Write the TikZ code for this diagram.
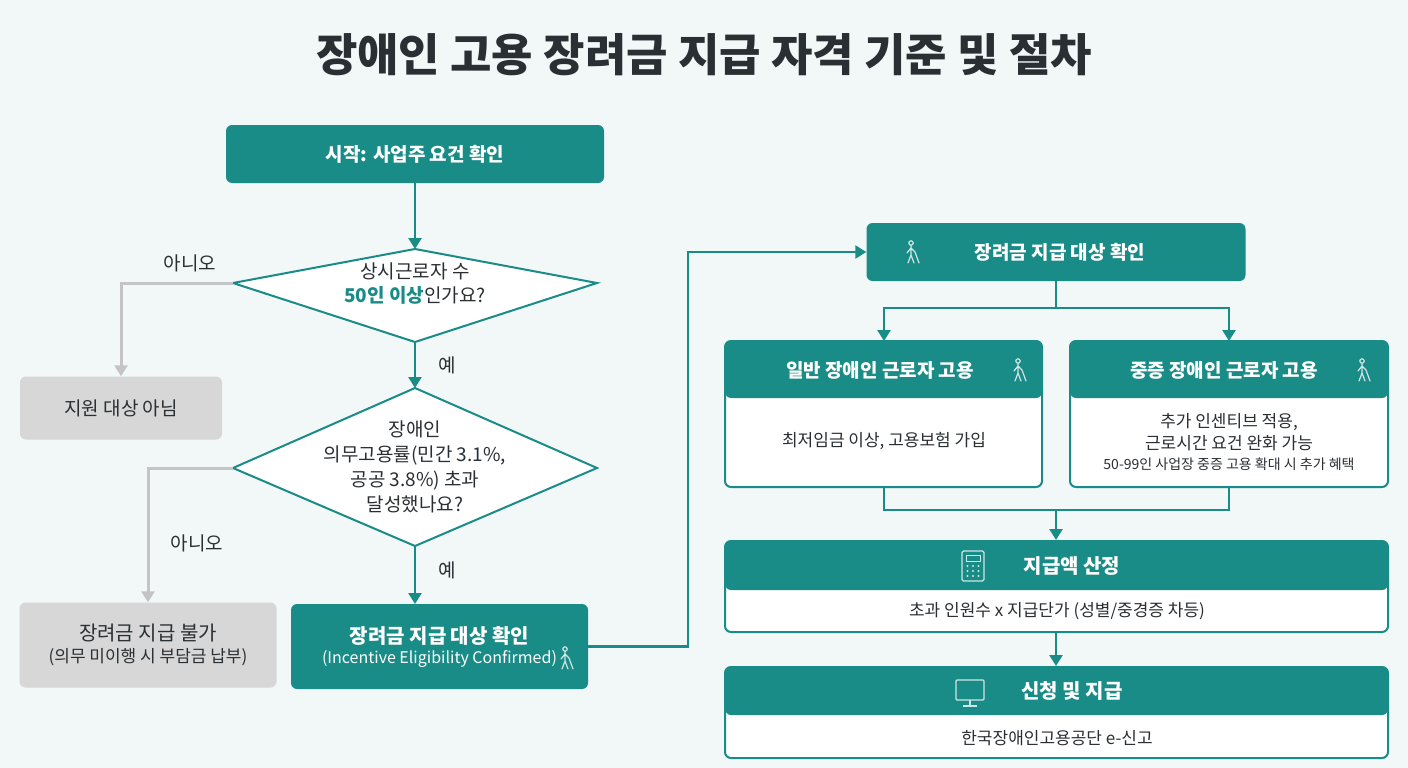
\documentclass[tikz,border=0pt]{standalone}
\usepackage{fontspec}
\setmainfont{Noto Sans CJK KR}
\usetikzlibrary{arrows.meta}
\definecolor{teal1}{HTML}{1A8C88}
\definecolor{bg}{HTML}{F2F7F8}
\definecolor{gbox}{HTML}{D7D7D7}
\definecolor{gline}{HTML}{C4C4C4}
\definecolor{txt}{HTML}{2A2F33}
\definecolor{icn}{HTML}{CFE6E4}
\begin{document}
\begin{tikzpicture}[x=1pt,y=-1pt,
 tbox/.style={fill=teal1,rounded corners=6pt,text=white,font=\bfseries\fontsize{19}{22}\selectfont},
 gboxs/.style={fill=gbox,rounded corners=6pt,text=txt,font=\fontsize{19}{24}\selectfont,align=center},
 dia/.style={draw=teal1,line width=2pt,fill=white},
 arr/.style={draw=teal1,line width=2.5pt,-{Triangle[length=11pt,width=13pt]}},
 ln/.style={draw=teal1,line width=2.5pt},
 garr/.style={draw=gline,line width=3pt,-{Triangle[length=11pt,width=13pt]}},
 card/.style={draw=teal1,line width=2pt,fill=white,rounded corners=6pt},
 lab/.style={text=txt,font=\fontsize{19}{23}\selectfont},
 body/.style={text=txt,font=\fontsize{17}{22}\selectfont,align=center},
 person/.pic={\draw[icn,line width=1.2pt,line cap=round] (0,-9) circle (2.2) (0,-6)--(0,3) (0,-4)--(-4,1) (0,-4)--(4,0) (0,3)--(-3,11) (0,3)--(3,11) (4,0)--(8,11);}]
\fill[bg] (0,0) rectangle (1408,768);
\useasboundingbox (0,0) rectangle (1408,768);
\node[text=txt,font=\bfseries\fontsize{45}{50}\selectfont] (title) at (704,55) {장애인 고용 장려금 지급 자격 기준 및 절차};
% left flow
\node[tbox,minimum width=378pt,minimum height=58pt] (start) at (415,154) {시작: 사업주 요건 확인};
\coordinate (d1n) at (415,249); \coordinate (d1w) at (233,283); \coordinate (d1e) at (597,283); \coordinate (d1s) at (415,342);
\path[dia] (d1n) -- (d1e) -- (d1s) -- (d1w) -- cycle;
\node[lab,align=center] (d1t) at (415,284) {상시근로자 수\\[1pt]{\color{teal1}\bfseries 50인 이상}인가요?};
\draw[arr] (start.south) -- (d1n);
\node[gboxs,minimum width=202pt,minimum height=63pt] (no1) at (121,408) {지원 대상 아님};
\draw[garr] (d1w) -| (no1.north);
\node[lab] (l1) at (190,263) {아니오};
\coordinate (d2n) at (415,388); \coordinate (d2w) at (233,468); \coordinate (d2e) at (597,468); \coordinate (d2s) at (415,546);
\path[dia] (d2n) -- (d2e) -- (d2s) -- (d2w) -- cycle;
\node[lab,align=center,font=\fontsize{19}{25}\selectfont] (d2t) at (415,467) {장애인\\의무고용률(민간 3.1\%,\\공공 3.8\%) 초과\\달성했나요?};
\draw[arr] (d1s) -- (d2n);
\node[lab] (y1) at (447,365) {예};
\node[gboxs,minimum width=257pt,minimum height=85pt] (no2) at (148,645) {\fontsize{20}{24}\selectfont 장려금 지급 불가\\[-2pt]\fontsize{17}{22}\selectfont(의무 미이행 시 부담금 납부)};
\draw[garr] (d2w) -| (no2.north);
\node[lab] (l2) at (197,543) {아니오};
\node[tbox,align=center,minimum width=297pt,minimum height=85pt] (ok) at (439.5,646.5) {\fontsize{20}{24}\selectfont 장려금 지급 대상 확인\\[-2pt]\mdseries\fontsize{16}{20}\selectfont(Incentive Eligibility Confirmed)};
\pic at (565,658) {person};
\coordinate (okn) at (415,604);
\draw[arr] (d2s) -- (okn);
\node[lab] (y2) at (447,570) {예};
% right
\node[tbox,minimum width=379pt,minimum height=58pt] (top) at (1056,252) {\hspace{8pt}장려금 지급 대상 확인};
\pic at (911,252) {person};
\draw[arr] (ok.east) -- (688,646.5) |- (top.west);
% cards
\path[card] (725,341) rectangle (1042,487);
\path[fill=teal1,rounded corners=6pt] (725,341) rectangle (1042,398);
\node[text=white,font=\bfseries\fontsize{19}{22}\selectfont] (c1h) at (880,370) {일반 장애인 근로자 고용};
\pic at (1018,370) {person};
\node[body] (c1b) at (884,441) {최저임금 이상, 고용보험 가입};
\coordinate (c1t) at (884,341); \coordinate (c1bot) at (884,487);
\path[card] (1070,341) rectangle (1388,487);
\path[fill=teal1,rounded corners=6pt] (1070,341) rectangle (1388,398);
\node[text=white,font=\bfseries\fontsize{19}{22}\selectfont] (c2h) at (1224,370) {중증 장애인 근로자 고용};
\pic at (1362,370) {person};
\node[body,font=\fontsize{17}{22}\selectfont] (c2b) at (1229,442) {추가 인센티브 적용,\\근로시간 요건 완화 가능\\[-2pt]{\fontsize{14}{18}\selectfont 50-99인 사업장 중증 고용 확대 시 추가 혜택}};
\coordinate (c2t) at (1229,341); \coordinate (c2bot) at (1229,487);
\coordinate (sp1) at (1056,308);
\draw[ln] (top.south) -- (sp1);
\draw[arr] (sp1) -| (c1t);
\draw[arr] (sp1) -| (c2t);
\path[card] (725,541) rectangle (1388,632);
\path[fill=teal1,rounded corners=6pt] (725,541) rectangle (1388,590);
\node[text=white,font=\bfseries\fontsize{20}{22}\selectfont] (c3h) at (1057,566) {\hspace{30pt}지급액 산정};
\draw[icn,line width=1.3pt,rounded corners=1.5pt] (962,551) rectangle (984,581);
\draw[icn,line width=1pt] (966,555) rectangle (980,561);
\foreach \i in {0,1,2} \foreach \j in {0,1,2} \fill[icn] (967.5+\i*5.5,566+\j*5) circle (1.2);
\node[body] (c3b) at (1057,611) {초과 인원수 x 지급단가 (성별/중경증 차등)};
\coordinate (mg) at (1056,510);
\draw[ln] (c1bot) |- (mg); \draw[ln] (c2bot) |- (mg);
\draw[arr] (mg) -- (1056,540);
\path[card] (725,667) rectangle (1388,758);
\path[fill=teal1,rounded corners=6pt] (725,667) rectangle (1388,715);
\node[text=white,font=\bfseries\fontsize{20}{22}\selectfont] (c4h) at (1057,691) {\hspace{30pt}신청 및 지급};
\draw[icn,line width=1.3pt,rounded corners=1pt] (956,680) rectangle (984,700);
\draw[icn,line width=1.3pt] (970,700)--(970,705) (963,706)--(977,706);
\node[body] (c4b) at (1057,738) {한국장애인고용공단 e-신고};
\draw[arr] (1056,632) -- (1056,666);
\end{tikzpicture}
\end{document}
